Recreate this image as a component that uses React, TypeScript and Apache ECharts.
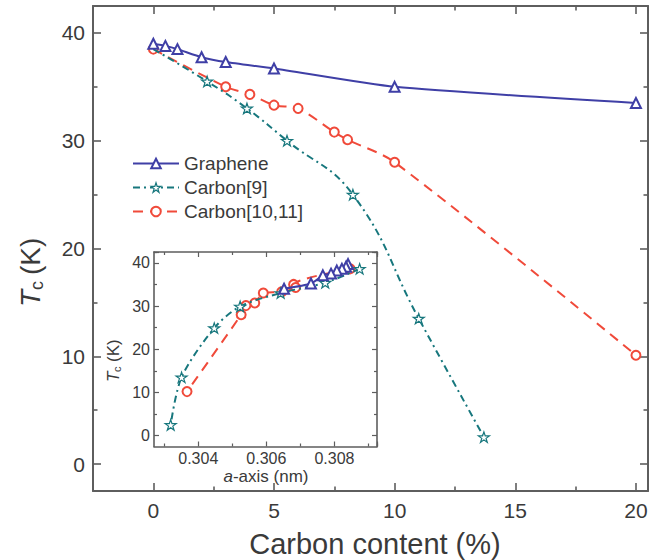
import React, { useEffect, useRef } from "react";
import * as echarts from "echarts";

// ---------- main plot data: Tc (K) vs carbon content (%) ----------
const graphX = [0, 0.5, 1, 2, 3, 5, 10, 20];
const graphY = [39.0, 38.8, 38.5, 37.75, 37.3, 36.7, 35.0, 33.5];
const c9X = [0, 2.23, 3.88, 5.54, 8.27, 11.0, 13.7];
const c9Y = [38.5, 35.5, 33.0, 30.0, 25.0, 13.5, 2.5];
const c1011X = [0, 3, 4, 5, 6, 7.5, 8.05, 10, 20];
const c1011Y = [38.5, 35.0, 34.3, 33.3, 33.0, 30.8, 30.1, 28.0, 10.1];

// ---------- inset data: Tc (K) vs a-axis (nm) ----------
const inGraphA = [0.3084, 0.30834, 0.30822, 0.30807, 0.3079, 0.30766, 0.30731, 0.30652];
const inGraphT = [39.7, 39.1, 38.6, 38.2, 37.5, 37.1, 35.2, 34.0];
const inC9A = [0.30874, 0.30773, 0.30642, 0.30523, 0.30447, 0.30351, 0.30319];
const inC9T = [38.6, 35.4, 33.0, 29.9, 24.9, 13.5, 2.5];
const inC1011A = [0.30846, 0.3068, 0.30686, 0.30645, 0.30591, 0.30566, 0.3054, 0.30526, 0.30367];
const inC1011T = [38.6, 35.0, 34.3, 33.3, 33.0, 30.7, 30.1, 28.0, 10.2];

// ---------- tick labels ----------
const mainXLabels = [0, 5, 10, 15, 20];
const mainYLabels = [0, 10, 20, 30, 40];
const inXLabels = [0.304, 0.306, 0.308];
const inYLabels = [0, 10, 20, 30, 40];

const seriesNames = ["Graphene", "Carbon[9]", "Carbon[10,11]"];

const BLUE = "#3f3fa6";
const TEAL = "#17777d";
const RED = "#f04a3a";
const AX = "#5e5e5e";
const TXT = "#3a3a3a";
const FONT = "'Liberation Sans', Arial, Helvetica, sans-serif";
const STAR =
  "path://M50,2 L61.8,37.6 L99,37.6 L69,59.6 L80.4,95 L50,73.2 L19.6,95 L31,59.6 L1,37.6 L38.2,37.6 Z";

const zip = (xs: number[], ys: number[]) => xs.map((x, i) => [x, ys[i]]);

type Geom = { L: number; T: number; W: number; H: number; xmin: number; xmax: number; ymin: number; ymax: number };

const MAIN: Geom = { L: 93, T: 6, W: 555, H: 485, xmin: -2.5, xmax: 20.5, ymin: -2.5, ymax: 42.5 };
const INSET: Geom = { L: 154, T: 252, W: 223, H: 194.5, xmin: 0.3027, xmax: 0.30925, ymin: -2.5, ymax: 42.5 };

export default function App() {
  const ref = useRef<HTMLDivElement>(null);

  useEffect(() => {
    if (!ref.current) return;
    const chart = echarts.init(ref.current, null, { renderer: "svg" });

    const grids: any[] = [];
    const xAxis: any[] = [];
    const yAxis: any[] = [];

    const frameAxis = (
      dim: "x" | "y",
      gridIndex: number,
      g: Geom,
      position: string,
      labels: number[] | null,
      lineW: number,
      labelSize: number,
      margin: number,
      fmt: (v: number) => string
    ) => {
      const ax = {
        type: "value",
        gridIndex,
        min: dim === "x" ? g.xmin : g.ymin,
        max: dim === "x" ? g.xmax : g.ymax,
        position,
        splitLine: { show: false },
        axisLine: { show: true, onZero: false, lineStyle: { color: AX, width: lineW } },
        axisTick: { show: false },
        axisLabel: labels
          ? {
              show: true,
              customValues: labels,
              margin,
              fontSize: labelSize,
              color: TXT,
              fontFamily: FONT,
              formatter: fmt,
            }
          : { show: false },
      };
      (dim === "x" ? xAxis : yAxis).push(ax);
    };

    // tick-only grid: an axis whose min is the first tick, so interval counts from it
    const tickGrid = (dim: "x" | "y", g: Geom, v0: number, interval: number, len: number, w: number) => {
      const gi = grids.length;
      if (dim === "x") {
        const left = g.L + ((v0 - g.xmin) / (g.xmax - g.xmin)) * g.W;
        grids.push({ left, top: g.T, width: g.L + g.W - left, height: g.H });
        ["bottom", "top"].forEach((pos) =>
          xAxis.push({
            type: "value",
            gridIndex: gi,
            min: v0,
            max: g.xmax,
            interval,
            position: pos,
            splitLine: { show: false },
            axisLine: { show: false, onZero: false },
            axisTick: { show: true, inside: true, length: len, lineStyle: { color: AX, width: w } },
            axisLabel: { show: false },
          })
        );
        yAxis.push({ type: "value", gridIndex: gi, show: false, min: g.ymin, max: g.ymax });
      } else {
        const height = ((g.ymax - v0) / (g.ymax - g.ymin)) * g.H;
        grids.push({ left: g.L, top: g.T, width: g.W, height });
        ["left", "right"].forEach((pos) =>
          yAxis.push({
            type: "value",
            gridIndex: gi,
            min: v0,
            max: g.ymax,
            interval,
            position: pos,
            splitLine: { show: false },
            axisLine: { show: false, onZero: false },
            axisTick: { show: true, inside: true, length: len, lineStyle: { color: AX, width: w } },
            axisLabel: { show: false },
          })
        );
        xAxis.push({ type: "value", gridIndex: gi, show: false, min: g.xmin, max: g.xmax });
      }
    };

    // grid 0: main, grid 1: inset
    grids.push({ left: MAIN.L, top: MAIN.T, width: MAIN.W, height: MAIN.H });
    grids.push({
      left: INSET.L,
      top: INSET.T,
      width: INSET.W,
      height: INSET.H,
      show: true,
      backgroundColor: "#ffffff",
      borderWidth: 0,
    });

    const intFmt = (v: number) => String(v);
    const nmFmt = (v: number) => v.toFixed(3);
    frameAxis("x", 0, MAIN, "bottom", mainXLabels, 2, 21, 9, intFmt); // x 0
    frameAxis("x", 0, MAIN, "top", null, 2, 21, 9, intFmt); // x 1
    frameAxis("x", 1, INSET, "bottom", inXLabels, 1.6, 16, 4, nmFmt); // x 2
    frameAxis("x", 1, INSET, "top", null, 1.6, 16, 4, nmFmt); // x 3
    frameAxis("y", 0, MAIN, "left", mainYLabels, 2, 21, 8, intFmt); // y 0
    frameAxis("y", 0, MAIN, "right", null, 2, 21, 8, intFmt); // y 1
    frameAxis("y", 1, INSET, "left", inYLabels, 1.6, 16, 4, intFmt); // y 2
    frameAxis("y", 1, INSET, "right", null, 1.6, 16, 4, intFmt); // y 3

    // main ticks
    tickGrid("x", MAIN, 0, 5, 8, 1.6);
    tickGrid("x", MAIN, 2.5, 5, 4.5, 1.6);
    tickGrid("y", MAIN, 0, 10, 8, 1.6);
    tickGrid("y", MAIN, 5, 10, 4.5, 1.6);
    // inset ticks
    tickGrid("x", INSET, 0.304, 0.002, 5, 1.2);
    tickGrid("x", INSET, 0.303, 0.002, 3, 1.2);
    tickGrid("y", INSET, 0, 10, 5, 1.2);
    tickGrid("y", INSET, 5, 10, 3, 1.2);

    const starStyle = { color: "#ffffff", borderColor: TEAL, borderWidth: 1.2 };

    const mkSeries = (inset: boolean) => {
      const xi = inset ? 2 : 0;
      const yi = inset ? 2 : 0;
      const c9data = inset
        ? zip(inC9A, inC9T)
        : zip(c9X, c9Y).map((p, i) => (i === 0 ? { value: p, symbol: "none" } : p));
      return [
        {
          name: seriesNames[2],
          type: "line",
          xAxisIndex: xi,
          yAxisIndex: yi,
          data: inset ? zip(inC1011A, inC1011T) : zip(c1011X, c1011Y),
          smooth: 0.3,
          symbol: "emptyCircle",
          symbolSize: 9,
          lineStyle: { color: RED, width: 2, type: [10, 7] },
          itemStyle: { color: RED, borderWidth: 1.6 },
          z: 3,
        },
        {
          name: seriesNames[1],
          type: "line",
          xAxisIndex: xi,
          yAxisIndex: yi,
          data: c9data,
          smooth: inset ? 0.3 : 0.45,
          symbol: STAR,
          symbolSize: 11,
          symbolKeepAspect: true,
          lineStyle: { color: TEAL, width: 2, type: [7, 4, 2, 4] },
          itemStyle: starStyle,
          z: 4,
        },
        {
          name: seriesNames[0],
          type: "line",
          xAxisIndex: xi,
          yAxisIndex: yi,
          data: inset ? zip(inGraphA, inGraphT) : zip(graphX, graphY),
          smooth: 0.2,
          symbol: "emptyTriangle",
          symbolSize: 10,
          lineStyle: { color: BLUE, width: 2 },
          itemStyle: { color: BLUE, borderWidth: 1.6 },
          z: 5,
        },
      ];
    };

    const option = {
      animation: false,
      backgroundColor: "#ffffff",
      grid: grids,
      xAxis,
      yAxis,
      legend: {
        data: [
          { name: seriesNames[0] },
          { name: seriesNames[1], itemStyle: starStyle },
          { name: seriesNames[2] },
        ],
        orient: "vertical",
        left: 127,
        top: 149,
        itemWidth: 46,
        itemHeight: 12,
        itemGap: 5,
        selectedMode: false,
        textStyle: { fontSize: 19, color: TXT, fontFamily: FONT },
      },
      series: [...mkSeries(false), ...mkSeries(true)],
      graphic: [
        {
          type: "text",
          x: 375,
          y: 544,
          style: {
            text: "Carbon content (%)",
            fontSize: 29,
            fontFamily: FONT,
            fill: TXT,
            textAlign: "center",
            textVerticalAlign: "middle",
          },
        },
        {
          type: "group",
          x: 30,
          y: 272,
          rotation: Math.PI / 2,
          children: [
            {
              type: "text",
              x: -35,
              y: 0,
              style: {
                text: "T",
                fontSize: 28,
                fontStyle: "italic",
                fontFamily: FONT,
                fill: TXT,
                textAlign: "left",
                textVerticalAlign: "middle",
              },
            },
            {
              type: "text",
              x: -18,
              y: 7,
              style: {
                text: "c",
                fontSize: 18,
                fontFamily: FONT,
                fill: TXT,
                textAlign: "left",
                textVerticalAlign: "middle",
              },
            },
            {
              type: "text",
              x: -3,
              y: 0,
              style: {
                text: "(K)",
                fontSize: 28,
                fontFamily: FONT,
                fill: TXT,
                textAlign: "left",
                textVerticalAlign: "middle",
              },
            },
          ],
        },
        {
          type: "text",
          x: 266,
          y: 476,
          style: {
            text: "{i|a}-axis (nm)",
            fontSize: 17,
            fontFamily: FONT,
            fill: TXT,
            textAlign: "center",
            textVerticalAlign: "middle",
            rich: {
              i: { fontSize: 17, fontStyle: "italic", fontFamily: FONT, fill: TXT },
            },
          },
        },
        {
          type: "group",
          x: 113,
          y: 360,
          rotation: Math.PI / 2,
          children: [
            {
              type: "text",
              x: -22,
              y: 0,
              style: {
                text: "T",
                fontSize: 17,
                fontStyle: "italic",
                fontFamily: FONT,
                fill: TXT,
                textAlign: "left",
                textVerticalAlign: "middle",
              },
            },
            {
              type: "text",
              x: -12,
              y: 4,
              style: {
                text: "c",
                fontSize: 11,
                fontFamily: FONT,
                fill: TXT,
                textAlign: "left",
                textVerticalAlign: "middle",
              },
            },
            {
              type: "text",
              x: -2,
              y: 0,
              style: {
                text: "(K)",
                fontSize: 17,
                fontFamily: FONT,
                fill: TXT,
                textAlign: "left",
                textVerticalAlign: "middle",
              },
            },
          ],
        },
      ],
    };

    chart.setOption(option as any);
    return () => chart.dispose();
  }, []);

  return (
    <div
      ref={ref}
      style={{ position: "fixed", left: 0, top: 0, width: 672, height: 560, background: "#fff" }}
    />
  );
}
